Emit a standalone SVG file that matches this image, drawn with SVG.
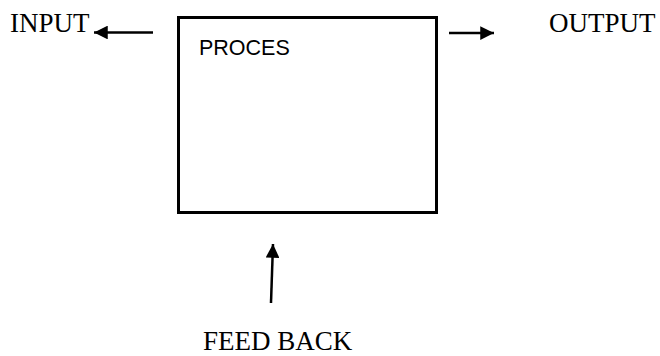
<svg xmlns="http://www.w3.org/2000/svg" width="660" height="356" viewBox="0 0 660 356">
<defs>
<style>
.t{font-family:"Liberation Serif","Times New Roman",serif;font-size:27px;fill:#000}
.s{font-family:"Liberation Sans",Arial,sans-serif;font-size:21.5px;fill:#000}
.c{stroke:#000;stroke-width:2.5;fill:none}
</style>
<marker id="ah" viewBox="0 0 10 10" refX="10" refY="5" markerWidth="5.5" markerHeight="5.5" orient="auto" markerUnits="strokeWidth">
<path d="M0,0L10,5L0,10z" fill="#000"/>
</marker>
</defs>
<rect width="660" height="356" fill="#fff"/>
<g id="process">
<rect x="178.5" y="17.5" width="258" height="195" fill="none" stroke="#000" stroke-width="3"/>
<text class="s" x="199" y="55">PROCES</text>
</g>
<g id="input"><text class="t" x="10" y="32">INPUT</text></g>
<g id="output"><text class="t" x="549" y="32">OUTPUT</text></g>
<g id="feedback"><text class="t" x="203" y="350">FEED BACK</text></g>
<g id="connectors">
<line class="c" x1="153" y1="32.5" x2="94" y2="32.5" marker-end="url(#ah)"/>
<line class="c" x1="449" y1="33" x2="494" y2="33" marker-end="url(#ah)"/>
<line class="c" x1="271" y1="303" x2="273" y2="244" marker-end="url(#ah)"/>
</g>
</svg>
